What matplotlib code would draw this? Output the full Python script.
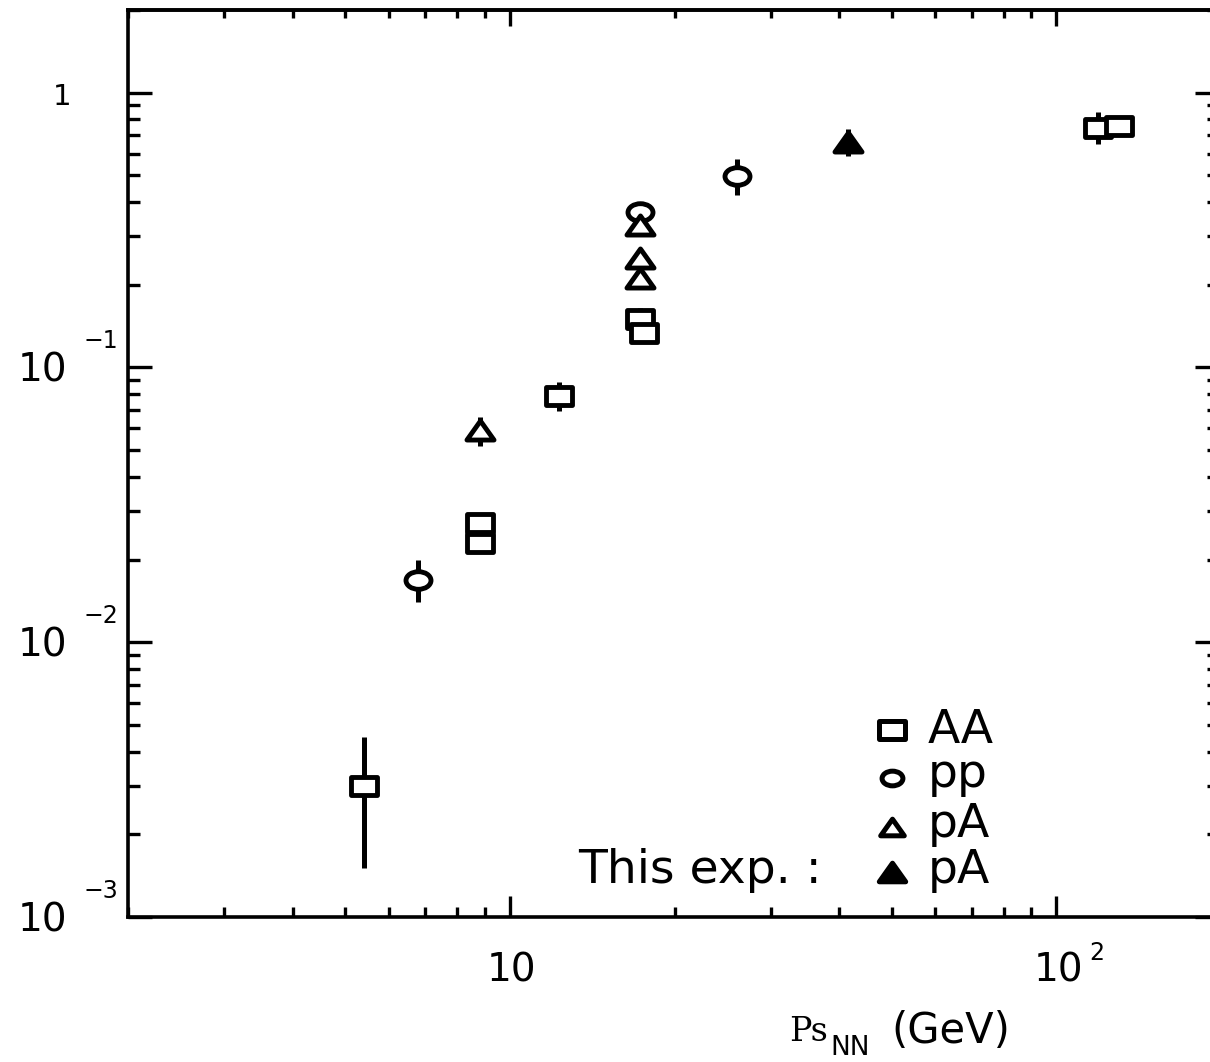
import numpy as np
import matplotlib
matplotlib.use('Agg')
import matplotlib.pyplot as plt
from matplotlib.lines import Line2D
from matplotlib.path import Path
from matplotlib.ticker import NullFormatter, LogLocator

# ---------------- data ----------------
aa_x = [5.4, 8.8, 8.8, 12.3, 17.3, 17.6, 119.0, 130.0]
aa_y = [0.0030, 0.0271, 0.0229, 0.079, 0.1495, 0.134, 0.746, 0.758]
aa_lo = [0.00151, 0.0271, 0.0229, 0.0692, 0.134, 0.134, 0.652, 0.758]
aa_hi = [0.00452, 0.0271, 0.0229, 0.0882, 0.164, 0.134, 0.85, 0.758]

pp_x = [6.8, 17.3, 26.0]
pp_y = [0.0169, 0.369, 0.499]
pp_lo = [0.0140, 0.369, 0.426]
pp_hi = [0.0199, 0.369, 0.575]

pa_x = [8.8, 17.3, 17.3, 17.3]
pa_y = [0.059, 0.331, 0.251, 0.211]
pa_lo = [0.052, 0.331, 0.251, 0.211]
pa_hi = [0.066, 0.331, 0.251, 0.211]

this_x = [41.6]
this_y = [0.663]
this_lo = [0.59]
this_hi = [0.74]

legend_labels = ['AA', 'pp', 'pA', 'pA']
legend_prefix = 'This exp. :'

ytick_vals = [1.0, 1e-1, 1e-2, 1e-3]
ytick_base = ['1', '10', '10', '10']
ytick_exp = ['', '\u22121', '\u22122', '\u22123']
xtick_vals = [10.0, 100.0]
xtick_base = ['10', '10']
xtick_exp = ['', '2']

xlabel_parts = ['Ps', 'NN', '(GeV)']

# ---------------- figure ----------------
W, H = 1210, 1062
plt.rcParams['font.family'] = ['DejaVu Sans']
fig = plt.figure(figsize=(W / 100, H / 100), dpi=100)
fig.patch.set_facecolor('white')

L, R, T, B = 128, 1221, 10, 917
ax = fig.add_axes([L / W, 1 - B / H, (R - L) / W, (B - T) / H])
ax.set_xscale('log')
ax.set_yscale('log')
ax.set_xlim(2, 200)
ax.set_ylim(1e-3, 2)
for s in ax.spines.values():
    s.set_linewidth(2.6)

ax.xaxis.set_major_locator(LogLocator(base=10, numticks=10))
ax.yaxis.set_major_locator(LogLocator(base=10, numticks=10))
ax.xaxis.set_minor_locator(LogLocator(base=10, subs=np.arange(2, 10), numticks=20))
ax.yaxis.set_minor_locator(LogLocator(base=10, subs=np.arange(2, 10), numticks=20))
for a in (ax.xaxis, ax.yaxis):
    a.set_major_formatter(NullFormatter())
    a.set_minor_formatter(NullFormatter())

ax.tick_params(axis='y', which='major', direction='in', length=17, width=2.4, left=True, right=False)
ax.tick_params(axis='y', which='minor', direction='in', length=8.6, width=2.4, left=True, right=False)
ax.tick_params(axis='x', which='major', direction='in', length=15, width=2.4, bottom=True, top=False)
ax.tick_params(axis='x', which='minor', direction='in', length=7.2, width=2.4, bottom=True, top=False)

sx = ax.secondary_xaxis('top')
sx.xaxis.set_major_formatter(NullFormatter())
sx.xaxis.set_minor_formatter(NullFormatter())
sx.tick_params(axis='x', which='major', direction='in', length=11.5, width=2.4)
sx.tick_params(axis='x', which='minor', direction='in', length=5.8, width=2.4)
sx.spines['top'].set_linewidth(2.6)

sy = ax.secondary_yaxis('right')
sy.yaxis.set_major_formatter(NullFormatter())
sy.yaxis.set_minor_formatter(NullFormatter())
sy.tick_params(axis='y', which='major', direction='in', length=19, width=2.4)
sy.tick_params(axis='y', which='minor', direction='in', length=10, width=2.4)

# ---------------- markers ----------------
ASP = 1.42
rect_m = Path([(-ASP, -1), (ASP, -1), (ASP, 1), (-ASP, 1), (-ASP, -1)], closed=True)
uc = Path.unit_circle()
ell_m = Path(uc.vertices * np.array([ASP, 1.0]), uc.codes)
tri_m = Path([(0, 1), (-ASP, -1), (ASP, -1), (0, 1)], closed=True)


def series(x, y, lo, hi, marker, filled, ms):
    ax.vlines(x, lo, hi, colors='black', lw=3.6, zorder=2)
    ax.plot(x, y, ls='none', marker=marker, ms=ms,
            mfc='black' if filled else 'white', mec='black', mew=3.5,
            zorder=3, clip_on=False)


series(aa_x, aa_y, aa_lo, aa_hi, rect_m, False, 18.5)
series(pp_x, pp_y, pp_lo, pp_hi, ell_m, False, 18.0)
series(pa_x, pa_y, pa_lo, pa_hi, tri_m, False, 19.5)
series(this_x, this_y, this_lo, this_hi, tri_m, True, 19.5)

# ---------------- tick labels (IDL style) ----------------
ytr = ax.get_yaxis_transform()
for v, b, e in zip(ytick_vals, ytick_base, ytick_exp):
    if e == '':
        ax.annotate(b, xy=(0, v), xycoords=ytr, xytext=(-66, -12),
                    textcoords='offset pixels', ha='center', va='baseline', fontsize=21)
    else:
        ax.annotate(b, xy=(0, v), xycoords=ytr, xytext=(-86, -14),
                    textcoords='offset pixels', ha='center', va='baseline', fontsize=28)
        ax.annotate(e, xy=(0, v), xycoords=ytr, xytext=(-27, 19),
                    textcoords='offset pixels', ha='center', va='baseline', fontsize=17)

xtr = ax.get_xaxis_transform()
for v, b, e in zip(xtick_vals, xtick_base, xtick_exp):
    ax.annotate(b, xy=(v, 0), xycoords=xtr, xytext=(2, -64),
                textcoords='offset pixels', ha='center', va='baseline', fontsize=28)
    if e:
        ax.annotate(e, xy=(v, 0), xycoords=xtr, xytext=(40, -43),
                    textcoords='offset pixels', ha='center', va='baseline', fontsize=17)


def fx(x):
    return x / W


def fy(y):
    return 1 - y / H


# ---------------- x label ----------------
renderer = fig.canvas.get_renderer()
t1 = fig.text(0, fy(1041), xlabel_parts[0], family='DejaVu Serif', fontsize=24, va='baseline')
t2 = fig.text(0, fy(1055), xlabel_parts[1], fontsize=19, va='baseline')
t3 = fig.text(0, fy(1043), xlabel_parts[2], fontsize=30, va='baseline')
w1 = t1.get_window_extent(renderer).width
w2 = t2.get_window_extent(renderer).width
w3 = t3.get_window_extent(renderer).width
gap = 22
total = w1 + 2 + w2 + gap + w3
x0 = 900 - total / 2
t1.set_x(fx(x0))
t2.set_x(fx(x0 + w1 + 2))
t3.set_x(fx(x0 + w1 + 2 + w2 + gap))

# ---------------- legend ----------------
leg_mx = 892
leg_my = [730, 778, 827, 872]
leg_ty = [743, 787, 837, 883]
leg_markers = [(rect_m, False, 19), (ell_m, False, 15), (tri_m, False, 17), (tri_m, True, 19)]
for (m, filled, ms), my, ty, lab in zip(leg_markers, leg_my, leg_ty, legend_labels):
    fig.add_artist(Line2D([fx(leg_mx)], [fy(my)], transform=fig.transFigure, ls='none',
                          marker=m, ms=ms, mfc='black' if filled else 'white',
                          mec='black', mew=3.6))
    fig.text(fx(928), fy(ty), lab, fontsize=34, va='baseline', ha='left')
fig.text(fx(822), fy(leg_ty[-1]), legend_prefix, fontsize=34, va='baseline', ha='right')

fig.savefig('out.png', dpi=100, facecolor='white')
